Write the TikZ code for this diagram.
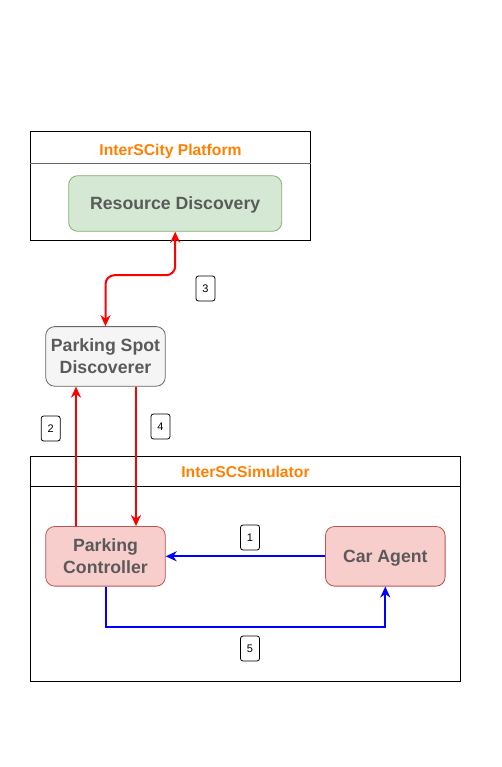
\documentclass[tikz,border=0pt]{standalone}
\usepackage{fontspec}
\setmainfont{Liberation Sans}
\usetikzlibrary{arrows.meta}
\definecolor{txtgray}{HTML}{5A5A5A}
\definecolor{titleorange}{HTML}{FF8000}
\definecolor{greenfill}{HTML}{D5E8D4}
\definecolor{greenline}{HTML}{82B366}
\definecolor{grayfill}{HTML}{F5F5F5}
\definecolor{grayline}{HTML}{666666}
\definecolor{redfill}{HTML}{F8CECC}
\definecolor{redline}{HTML}{B85450}
\tikzset{
  container/.style={draw=black, line width=1pt, minimum width=280pt, minimum height=109pt, inner sep=0pt},
  ctitle/.style={text=titleorange, font=\fontsize{15.7}{18}\selectfont\bfseries, text depth=0pt},
  comp/.style={rounded corners=9pt, line width=0.8pt, minimum width=119.6pt, minimum height=59.6pt, inner sep=0pt, align=center, text=txtgray, text depth=0pt, font=\fontsize{17.7}{22}\selectfont\bfseries},
  numbox/.style={draw=black, line width=0.8pt, rounded corners=2.5pt, minimum width=19pt, minimum height=25pt, inner sep=0pt, font=\fontsize{11}{13}\selectfont},
  redarrow/.style={draw=red, line width=2pt},
  bluearrow/.style={draw=blue, line width=2pt},
  tip/.tip={Stealth[length=11pt, width=10pt, inset=3.5pt]}
}
\begin{document}
\begin{tikzpicture}[x=1pt, y=-1pt]
\useasboundingbox (0,0) rectangle (502,767);
% containers
\node[container, minimum width=280.4pt, minimum height=108.7pt] (plat) at (170.5,185.65) {};
\draw[line width=1pt, draw=grayline] (plat.west |- 0,163.5) coordinate (pl) -- (plat.east |- 0,163.5) coordinate (pr);
\node[ctitle] (plattitle) at (170.5,150) {InterSCity Platform};
\node[container, minimum width=430.4pt, minimum height=224.7pt] (sim) at (245.5,568.65) {};
\draw[line width=1pt] (sim.west |- 0,486) coordinate (sl) -- (sim.east |- 0,486) coordinate (sr);
\node[ctitle] (simtitle) at (245.5,471.5) {InterSCSimulator};
% components
\node[comp, fill=greenfill, draw=greenline, minimum width=213pt, minimum height=55.6pt] (rd) at (175.2,203.5) {Resource Discovery};
\node[comp, fill=grayfill, draw=grayline] (psd) at (105.5,356.4) {Parking Spot\\Discoverer};
\node[comp, fill=redfill, draw=redline] (pc) at (105.5,556.3) {Parking\\Controller};
\node[comp, fill=redfill, draw=redline] (ca) at (385.3,556.3) {Car Agent};
% connectors
\draw[redarrow, {tip}-{tip}, rounded corners=9pt] (psd.north) -- ++(0,-51) -| (rd.south);
\draw[redarrow, -{tip}] ([xshift=-29.5pt]pc.north) -- ([xshift=-29.5pt]psd.south);
\draw[redarrow, -{tip}] ([xshift=30.5pt]psd.south) -- ([xshift=30.5pt]pc.north);
\draw[bluearrow, -{tip}] (ca.west) -- (pc.east);
\draw[bluearrow, -{tip}] (pc.south) -- ++(0,40.5) -| (ca.south);
% labels
\node[numbox] (n1) at (250,537.5) {1};
\node[numbox] (n2) at (50.7,428.5) {2};
\node[numbox] (n3) at (205.5,288.5) {3};
\node[numbox] (n4) at (160.5,426.5) {4};
\node[numbox] (n5) at (250,648.5) {5};
\end{tikzpicture}
\end{document}
